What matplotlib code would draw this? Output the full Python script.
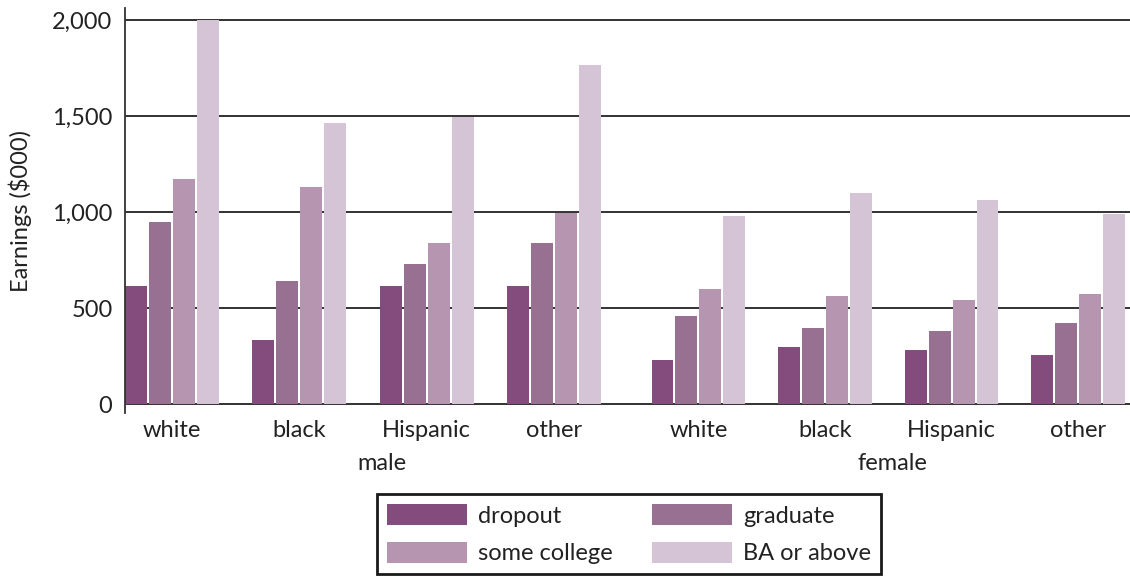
import matplotlib
matplotlib.use('Agg')
import matplotlib.pyplot as plt
import numpy as np

plt.rcParams['font.family'] = ['Lato', 'DejaVu Sans']

groups = ['white', 'black', 'Hispanic', 'other', 'white', 'black', 'Hispanic', 'other']
levels = ['dropout', 'graduate', 'some college', 'BA or above']
colors = ['#834C7D', '#987091', '#B695B0', '#D4C4D5']

# earnings ($000) per group: male white..other, female white..other
dropout = [616, 335, 616, 616, 231, 298, 283, 257]
graduate = [950, 642, 730, 840, 460, 397, 382, 424]
some_college = [1173, 1132, 840, 996, 601, 564, 543, 574]
ba_or_above = [2000, 1465, 1497, 1767, 981, 1100, 1064, 992]
series = [dropout, graduate, some_college, ba_or_above]

FS = 17
TXT = '#222222'

fig = plt.figure(figsize=(11.3, 5.78), dpi=100)
ax = fig.add_axes([0.1106, 0.2855, 0.8894, 0.7003])

x = np.r_[np.arange(4), 4.13 + np.arange(4) * 0.993]
step, width = 0.1875, 0.172
handles = []
for k, (vals, c, lab) in enumerate(zip(series, colors, levels)):
    h = ax.bar(x + (k - 1.5) * step, vals, width, color=c, label=lab, zorder=2)
    handles.append(h)

for yv in [0, 500, 1000, 1500, 2000]:
    ax.axhline(yv, color=TXT, lw=1.3, zorder=1)

ax.set_xlim(-0.367, 7.515)
ax.set_ylim(-45, 2062)
ax.set_yticks([0, 500, 1000, 1500, 2000])
ax.set_yticklabels(['0', '500', '1,000', '1,500', '2,000'])
ax.set_xticks(x)
ax.set_xticklabels(groups)
ax.tick_params(axis='both', length=0, labelsize=FS, colors=TXT)
ax.tick_params(axis='y', pad=9)
ax.tick_params(axis='x', pad=5)
for s in ['top', 'right', 'bottom']:
    ax.spines[s].set_visible(False)
ax.spines['left'].set_color('#333333')
ax.spines['left'].set_linewidth(1.3)
ax.yaxis.set_label_coords(-0.093, 0.49)
ax.set_ylabel('Earnings ($000)', fontsize=FS, color=TXT)

ax.text(1.65, -0.125, 'male', transform=ax.get_xaxis_transform(), ha='center', va='center',
        fontsize=FS, color=TXT)
ax.text(5.65, -0.125, 'female', transform=ax.get_xaxis_transform(), ha='center', va='center',
        fontsize=FS, color=TXT)

order = [0, 2, 1, 3]
leg = fig.legend([handles[i] for i in order], [levels[i] for i in order], ncol=2,
                 loc='center', bbox_to_anchor=(0.5566, 0.0755), fontsize=FS,
                 frameon=True, fancybox=False, edgecolor='#1a1a1a', framealpha=1,
                 handlelength=3.4, handleheight=0.97, handletextpad=0.47,
                 columnspacing=1.65, labelspacing=0.65, borderpad=0.42)
leg.get_frame().set_linewidth(2)
for t in leg.get_texts():
    t.set_color(TXT)

fig.savefig('out.png', dpi=100)
